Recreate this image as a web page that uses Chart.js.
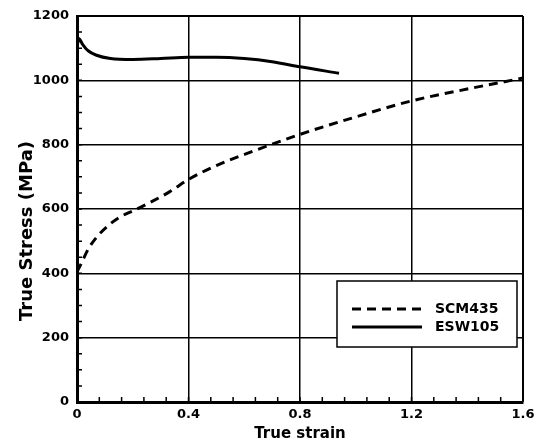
<!DOCTYPE html>
<html lang="en">
  <head>
    <meta charset="UTF-8" />
    <title>True stress - true strain</title>
    <script src="https://cdn.jsdelivr.net/npm/chart.js"></script>
    <style>
      html,
      body {
        width: 100%;
        height: 100%;
        margin: 0;
        padding: 0;
        background: #fff;
      }
      #wrap {
        width: 542px;
        height: 444px;
      }
    </style>
  </head>
  <body>
    <div id="wrap"><canvas id="chart" width="542" height="444"></canvas></div>

    <script>
      // values
      const scmStrain = [0, 0.011, 0.04, 0.07, 0.11, 0.154, 0.208, 0.268, 0.333, 0.4, 0.5, 0.62, 0.8, 0.98, 1.2, 1.4, 1.6];
      const scmStress = [405, 423, 475, 512, 547, 575, 597, 623, 654, 692, 735, 776, 832, 881, 936, 973, 1007];

      const eswStrain = [0, 0.006, 0.02, 0.04, 0.07, 0.12, 0.2, 0.3, 0.4, 0.5, 0.6, 0.7, 0.8, 0.94];
      const eswStress = [1100, 1130, 1112, 1092, 1078, 1068, 1065, 1068, 1072, 1072, 1068, 1058, 1042, 1022];

      const seriesNames = ["SCM435", "ESW105"];
      const xTicks = [0, 0.4, 0.8, 1.2, 1.6];
      const yTicks = [0, 200, 400, 600, 800, 1000, 1200];

      const FONT = "'DejaVu Sans', sans-serif";
      const toPoints = (xs, ys) => xs.map((x, i) => ({ x: x, y: ys[i] }));

      // minor ticks, axis titles and the boxed legend
      const extras = {
        id: "extras",
        afterDraw(chart) {
          const ctx = chart.ctx;
          const a = chart.chartArea;
          const xs = chart.scales.x;
          const ys = chart.scales.y;
          ctx.save();
          ctx.strokeStyle = "#000";
          ctx.lineWidth = 1.5;
          ctx.beginPath();
          for (let v = 0; v <= 1.6001; v += 0.08) {
            const px = xs.getPixelForValue(v);
            ctx.moveTo(px, a.bottom);
            ctx.lineTo(px, a.bottom - 5);
          }
          for (let v = 0; v <= 1200; v += 50) {
            const py = ys.getPixelForValue(v);
            ctx.moveTo(a.left, py);
            ctx.lineTo(a.left + 5, py);
          }
          ctx.stroke();

          // axis titles
          ctx.fillStyle = "#000";
          ctx.textAlign = "center";
          ctx.textBaseline = "middle";
          ctx.font = "bold 15px " + FONT;
          ctx.fillText("True strain", (a.left + a.right) / 2, 434);
          ctx.save();
          ctx.translate(27, 231);
          ctx.rotate(-Math.PI / 2);
          ctx.font = "bold 18px " + FONT;
          ctx.fillText("True Stress (MPa)", 0, 0);
          ctx.restore();

          // legend box
          const bx = 337, by = 281, bw = 180, bh = 66;
          ctx.fillStyle = "#fff";
          ctx.fillRect(bx, by, bw, bh);
          ctx.lineWidth = 1.5;
          ctx.strokeRect(bx, by, bw, bh);
          chart.data.datasets.forEach((ds, i) => {
            const yy = 309 + i * 18;
            ctx.beginPath();
            ctx.lineWidth = ds.borderWidth;
            ctx.setLineDash(ds.borderDash || []);
            ctx.moveTo(352, yy);
            ctx.lineTo(422, yy);
            ctx.stroke();
            ctx.setLineDash([]);
            ctx.fillStyle = "#000";
            ctx.textAlign = "left";
            ctx.font = "bold 14px " + FONT;
            ctx.fillText(ds.label, 435, yy);
          });
          ctx.restore();
        },
      };

      const edgeWidth = (ctx, max) => (ctx.tick && ctx.tick.value === max ? 2 : 1.5);

      new Chart(document.getElementById("chart").getContext("2d"), {
        type: "scatter",
        data: {
          datasets: [
            {
              label: seriesNames[0],
              data: toPoints(scmStrain, scmStress),
              showLine: true,
              borderColor: "#000",
              borderWidth: 3,
              borderDash: [9, 6],
              pointRadius: 0,
              cubicInterpolationMode: "monotone",
            },
            {
              label: seriesNames[1],
              data: toPoints(eswStrain, eswStress),
              showLine: true,
              borderColor: "#000",
              borderWidth: 3,
              pointRadius: 0,
              cubicInterpolationMode: "monotone",
            },
          ],
        },
        options: {
          responsive: false,
          animation: false,
          layout: { padding: { top: 16, right: 19, left: 0, bottom: 0 } },
          plugins: {
            legend: { display: false },
            tooltip: { enabled: false },
          },
          scales: {
            x: {
              type: "linear",
              min: 0,
              max: 1.6,
              afterFit: (s) => { s.height = 42; },
              afterBuildTicks: (s) => { s.ticks = xTicks.map((v) => ({ value: v })); },
              ticks: {
                color: "#000",
                padding: 5,
                font: { family: FONT, size: 13, weight: "bold" },
                callback: (v) => String(v),
              },
              grid: {
                color: "#000",
                lineWidth: (c) => edgeWidth(c, 1.6),
                drawTicks: false,
              },
              border: { color: "#000", width: 3 },
            },
            y: {
              min: 0,
              max: 1200,
              afterFit: (s) => { s.width = 77; },
              afterBuildTicks: (s) => { s.ticks = yTicks.map((v) => ({ value: v })); },
              ticks: {
                color: "#000",
                padding: 8,
                font: { family: FONT, size: 13, weight: "bold" },
                callback: (v) => String(v),
              },
              grid: {
                color: "#000",
                lineWidth: (c) => edgeWidth(c, 1200),
                drawTicks: false,
              },
              border: { color: "#000", width: 3 },
            },
          },
        },
        plugins: [extras],
      });
    </script>
  </body>
</html>
